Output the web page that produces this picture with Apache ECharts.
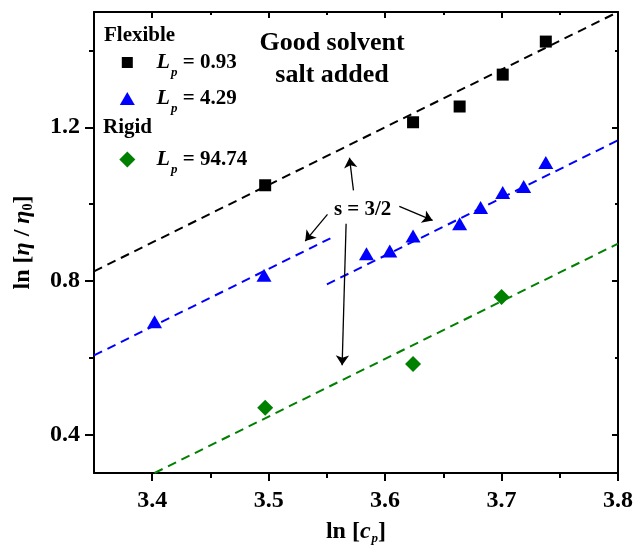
<!DOCTYPE html>
<html><head><meta charset="utf-8">
<script src="https://cdn.jsdelivr.net/npm/echarts@6/dist/echarts.min.js"></script>
<style>html,body{margin:0;padding:0;background:#fff}#c{width:636px;height:560px}</style>
</head><body><div id="c"></div>
<script>
const FONT = '"Liberation Serif", "Times New Roman", serif';

// axis ranges and ticks
const xMin = 3.35, xMax = 3.8;
const yMin = 0.3, yMax = 1.5;
const xMajorTicks = [3.4, 3.5, 3.6, 3.7, 3.8];
const xMinorTicks = [3.45, 3.55, 3.65, 3.75];
const yMajorTicks = [0.4, 0.8, 1.2];
const yMinorTicks = [0.6, 1.0, 1.4];

// series
const seriesNames = ['Lp = 0.93', 'Lp = 4.29', 'Lp = 94.74'];
const lpValues = ['0.93', '4.29', '94.74'];
const flex1X = [3.497, 3.624, 3.664, 3.701, 3.738];
const flex1Y = [1.049, 1.213, 1.254, 1.337, 1.423];
const flex2X = [3.402, 3.496, 3.584, 3.604, 3.624, 3.664, 3.682, 3.701, 3.719, 3.738];
const flex2Y = [0.694, 0.815, 0.871, 0.878, 0.917, 0.949, 0.991, 1.030, 1.046, 1.108];
const rigidX = [3.497, 3.624, 3.700];
const rigidY = [0.470, 0.584, 0.758];

// slope 3/2 guide lines (end points)
const guideBlackX = [3.35, 3.8];
const guideBlackY = [0.825, 1.5];
const guideBlueAX = [3.35, 3.553];
const guideBlueAY = [0.606, 0.911];
const guideBlueBX = [3.55, 3.8];
const guideBlueBY = [0.791, 1.166];
const guideGreenX = [3.402, 3.8];
const guideGreenY = [0.300, 0.897];

// annotation "s = 3/2" and its arrows (data coordinates)
const slopeLabel = 's = 3/2';
const slopeLabelPos = [3.5807, 0.9861];
const arrowFromX = [3.5728, 3.5505, 3.6122, 3.5665];
const arrowFromY = [1.0355, 0.9731, 0.9939, 0.9489];
const arrowToX = [3.5694, 3.5314, 3.6408, 3.5631];
const arrowToY = [1.1206, 0.9036, 0.9575, 0.5802];

const zip = (a, b) => a.map((v, i) => [v, b[i]]);

const chart = echarts.init(document.getElementById('c'), null, {renderer: 'canvas'});

function tickLabelStyle(show) {
  return {show: show, fontFamily: FONT, fontSize: 24, fontWeight: 'bold', color: '#000'};
}

const axisLineStyle = {color: '#000', width: 2};

const xAxes = [
  {gridIndex: 0, type: 'value', position: 'bottom', min: xMin, max: xMax,
   axisLine: {show: true, onZero: false, lineStyle: axisLineStyle},
   axisTick: {show: true, inside: false, length: 8, customValues: xMajorTicks, lineStyle: {color: '#000', width: 2}},
   axisLabel: Object.assign(tickLabelStyle(true), {customValues: xMajorTicks, margin: 16, formatter: v => v.toFixed(1)}),
   splitLine: {show: false},
   name: '{b|ln [}{i|c}{s|p}{b|]}', nameLocation: 'middle', nameGap: 36,
   nameTextStyle: {fontFamily: FONT, fontSize: 24, fontWeight: 'bold', color: '#000',
     rich: {
       b: {fontFamily: FONT, fontSize: 24, fontWeight: 'bold', color: '#000'},
       i: {fontFamily: FONT, fontSize: 24, fontWeight: 'bold', fontStyle: 'italic', color: '#000'},
       s: {fontFamily: FONT, fontSize: 13, fontWeight: 'bold', fontStyle: 'italic', color: '#000', padding: [14, 0, 0, 1], lineHeight: 24}
     }}},
  {gridIndex: 0, type: 'value', position: 'top', min: xMin, max: xMax,
   axisLine: {show: true, onZero: false, lineStyle: axisLineStyle},
   axisTick: {show: true, inside: true, length: 6, customValues: xMajorTicks, lineStyle: {color: '#000', width: 2}},
   axisLabel: {show: false, customValues: xMajorTicks}, splitLine: {show: false}},
  {gridIndex: 1, type: 'value', position: 'bottom', min: xMin, max: xMax,
   axisLine: {show: false, onZero: false},
   axisTick: {show: true, inside: false, length: 5, customValues: xMinorTicks, lineStyle: {color: '#000', width: 2}},
   axisLabel: {show: false, customValues: xMinorTicks}, splitLine: {show: false}},
  {gridIndex: 1, type: 'value', position: 'top', min: xMin, max: xMax,
   axisLine: {show: false, onZero: false},
   axisTick: {show: true, inside: true, length: 3, customValues: xMinorTicks, lineStyle: {color: '#000', width: 2}},
   axisLabel: {show: false, customValues: xMinorTicks}, splitLine: {show: false}}
];

const yAxes = [
  {gridIndex: 0, type: 'value', position: 'left', min: yMin, max: yMax,
   axisLine: {show: true, onZero: false, lineStyle: axisLineStyle},
   axisTick: {show: true, inside: false, length: 9, customValues: yMajorTicks, lineStyle: {color: '#000', width: 2}},
   axisLabel: Object.assign(tickLabelStyle(true), {customValues: yMajorTicks, margin: 14, formatter: v => v.toFixed(1)}),
   splitLine: {show: false},
   name: '{b|ln [}{i|η}{b| / }{i|η}{s|0}{b|]}', nameLocation: 'middle', nameGap: 59, nameRotate: 90,
   nameTextStyle: {fontFamily: FONT, fontSize: 24, fontWeight: 'bold', color: '#000',
     rich: {
       b: {fontFamily: FONT, fontSize: 24, fontWeight: 'bold', color: '#000'},
       i: {fontFamily: FONT, fontSize: 24, fontWeight: 'bold', fontStyle: 'italic', color: '#000'},
       s: {fontFamily: FONT, fontSize: 14, fontWeight: 'bold', color: '#000', padding: [10, 0, 0, 0], lineHeight: 24}
     }}},
  {gridIndex: 0, type: 'value', position: 'right', min: yMin, max: yMax,
   axisLine: {show: true, onZero: false, lineStyle: axisLineStyle},
   axisTick: {show: true, inside: true, length: 6, customValues: yMajorTicks, lineStyle: {color: '#000', width: 2}},
   axisLabel: {show: false, customValues: yMajorTicks}, splitLine: {show: false}},
  {gridIndex: 1, type: 'value', position: 'left', min: yMin, max: yMax,
   axisLine: {show: false, onZero: false},
   axisTick: {show: true, inside: false, length: 5, customValues: yMinorTicks, lineStyle: {color: '#000', width: 2}},
   axisLabel: {show: false, customValues: yMinorTicks}, splitLine: {show: false}},
  {gridIndex: 1, type: 'value', position: 'right', min: yMin, max: yMax,
   axisLine: {show: false, onZero: false},
   axisTick: {show: true, inside: true, length: 3, customValues: yMinorTicks, lineStyle: {color: '#000', width: 2}},
   axisLabel: {show: false, customValues: yMinorTicks}, splitLine: {show: false}}
];

const guideStyle = color => ({color: color, width: 2, type: [9, 6], opacity: 1});

function guide(name, xs, ys, color, extra) {
  return Object.assign({
    name: name, type: 'line', xAxisIndex: 0, yAxisIndex: 0, data: zip(xs, ys),
    symbol: 'none', silent: true, z: 2, clip: true,
    lineStyle: guideStyle(color), itemStyle: {color: color}
  }, extra || {});
}

const arrowData = arrowFromX.map((x, i) => [
  {coord: [x, arrowFromY[i]]},
  {coord: [arrowToX[i], arrowToY[i]]}
]);

const legendDefs = [
  {icon: 'rect', w: 11, h: 11, cy: 61, color: '#000'},
  {icon: 'triangle', w: 15, h: 13, cy: 97, color: '#0000ff'},
  {icon: 'diamond', w: 16, h: 16, cy: 158, color: '#008000'}
];
const legendIconX = 127.3, legendTextX = 156.5;

const legends = legendDefs.map((d, i) => ({
  data: [{name: seriesNames[i], icon: d.icon, itemStyle: {color: d.color, opacity: 1}}],
  left: legendIconX - d.w / 2, top: d.cy - 15.5,
  orient: 'vertical', padding: 0, itemGap: 0, selectedMode: false,
  itemWidth: d.w, itemHeight: d.h,
  formatter: () => '{L|L}{p|p}{v| = ' + lpValues[i] + '}',
  textStyle: {color: '#000', fontFamily: FONT, fontSize: 21, fontWeight: 'bold',
    rich: {
      L: {fontFamily: FONT, fontSize: 22, fontWeight: 'bold', fontStyle: 'italic', color: '#000',
          padding: [0, 0, 0, legendTextX - (legendIconX + d.w / 2 + 5)]},
      p: {fontFamily: FONT, fontSize: 13, fontWeight: 'bold', fontStyle: 'italic', color: '#000',
          padding: [21, 0, 0, 1], lineHeight: 22},
      v: {fontFamily: FONT, fontSize: 21, fontWeight: 'bold', color: '#000'}
    }}
}));

const option = {
  animation: false,
  backgroundColor: '#fff',
  grid: [
    {left: 94, right: 18, top: 12, bottom: 87, outerBoundsMode: 'none'},
    {left: 94, right: 18, top: 12, bottom: 87, outerBoundsMode: 'none'}
  ],
  xAxis: xAxes,
  yAxis: yAxes,
  legend: legends,
  graphic: [
    {type: 'text', x: 332, y: 59, silent: true,
     style: {text: 'Good solvent\nsalt added', fontFamily: FONT, fontSize: 26, fontWeight: 'bold',
             fill: '#000', align: 'center', verticalAlign: 'middle', lineHeight: 31.7}},
    {type: 'text', x: 104, y: 36, silent: true,
     style: {text: 'Flexible', fontFamily: FONT, fontSize: 21, fontWeight: 'bold', fill: '#000',
             align: 'left', verticalAlign: 'middle'}},
    {type: 'text', x: 103, y: 128, silent: true,
     style: {text: 'Rigid', fontFamily: FONT, fontSize: 21, fontWeight: 'bold', fill: '#000',
             align: 'left', verticalAlign: 'middle'}}
  ],
  series: [
    {name: seriesNames[0], type: 'scatter', xAxisIndex: 0, yAxisIndex: 0, data: zip(flex1X, flex1Y),
     symbol: 'rect', symbolSize: 12, itemStyle: {color: '#000', opacity: 1}, z: 4},
    {name: seriesNames[1], type: 'scatter', xAxisIndex: 0, yAxisIndex: 0, data: zip(flex2X, flex2Y),
     symbol: 'triangle', symbolSize: [15, 13], itemStyle: {color: '#0000ff', opacity: 1}, z: 4},
    {name: seriesNames[2], type: 'scatter', xAxisIndex: 0, yAxisIndex: 0, data: zip(rigidX, rigidY),
     symbol: 'diamond', symbolSize: 16, itemStyle: {color: '#008000', opacity: 1}, z: 4},
    guide('guide-black', guideBlackX, guideBlackY, '#000', {
      markLine: {
        silent: true, animation: false,
        symbol: ['none', 'arrow'], symbolSize: 10,
        label: {show: false},
        lineStyle: {color: '#000', width: 1.3, type: 'solid', opacity: 1},
        emphasis: {disabled: true},
        data: arrowData
      },
      markPoint: {
        silent: true, animation: false,
        symbol: 'circle', symbolSize: 1, itemStyle: {color: 'rgba(0,0,0,0)'},
        label: {show: true, position: 'inside', formatter: slopeLabel, fontFamily: FONT, fontSize: 21,
                fontWeight: 'bold', color: '#000'},
        data: [{coord: slopeLabelPos}]
      }
    }),
    guide('guide-blue-a', guideBlueAX, guideBlueAY, '#0000ff'),
    guide('guide-blue-b', guideBlueBX, guideBlueBY, '#0000ff'),
    guide('guide-green', guideGreenX, guideGreenY, '#008000')
  ]
};

chart.setOption(option);
</script>
</body></html>
